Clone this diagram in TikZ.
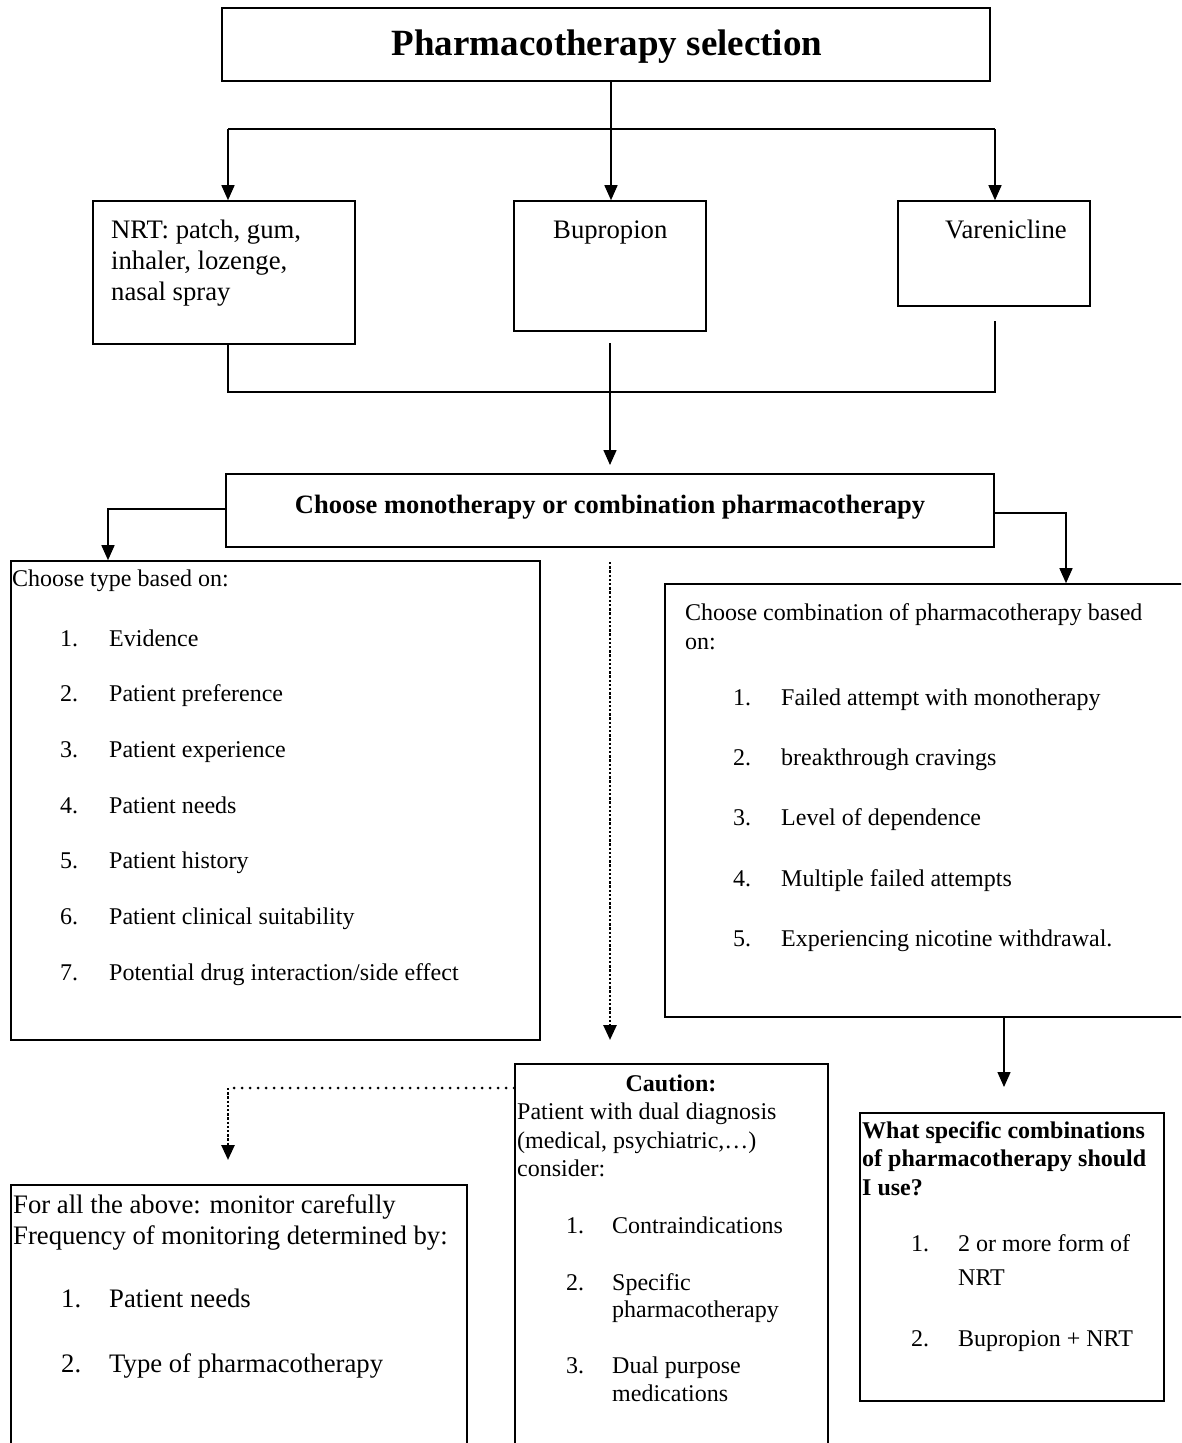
\documentclass[tikz,border=0pt]{standalone}
\usepackage{fontspec}
\setmainfont{Liberation Serif}
\usetikzlibrary{arrows.meta}
\tikzset{
  box/.style={draw, line width=1.6pt, rectangle, inner sep=0pt},
  conn/.style={line width=1.5pt},
  arr/.style={conn, -{Triangle[length=15pt,width=13pt]}},
  dotline/.style={line width=2.6pt, dash pattern=on 2.4pt off 1.8pt},
  dotround/.style={line width=3pt, line cap=round, dash pattern=on 0pt off 8pt},
  darr/.style={dotline, -{Triangle[length=15pt,width=13pt]}},
  tx/.style={anchor=base west, inner sep=0pt, font=\fontsize{24}{28}\selectfont},
  tm/.style={anchor=base west, inner sep=0pt, font=\fontsize{26.7}{31}\selectfont},
  tb/.style={anchor=base west, inner sep=0pt, font=\fontsize{24}{28}\selectfont\bfseries},
}
\begin{document}
\begin{tikzpicture}[x=1pt,y=-1pt]
\useasboundingbox (0,0) rectangle (1181,1443);
\clip (0,0) rectangle (1181,1443);
% boxes
\node[box, minimum width=768pt, minimum height=73pt] (title) at (606,44.5) {};
\node[box, minimum width=262pt, minimum height=143pt] (nrt) at (224,272.5) {};
\node[box, minimum width=192pt, minimum height=130pt] (bup) at (610,266) {};
\node[box, minimum width=192pt, minimum height=105pt] (var) at (994,253.5) {};
\node[box, minimum width=768pt, minimum height=73pt] (mono) at (610,510.5) {};
\node[box, minimum width=529pt, minimum height=479pt] (typebox) at (275.5,800.5) {};
\node[box, minimum width=530pt, minimum height=433pt] (combbox) at (930,800.5) {};
\node[box, minimum width=313pt, minimum height=396pt] (caution) at (671.5,1262) {};
\node[box, minimum width=456pt, minimum height=275pt] (monitor) at (239,1322.5) {};
\node[box, minimum width=304pt, minimum height=288pt] (spec) at (1012,1257) {};
% texts
\node[anchor=base, inner sep=0pt, font=\fontsize{37}{41}\selectfont\bfseries] (ttl) at (607,55) {Pharmacotherapy selection};
\node[tm] (n1) at (111,238) {NRT: patch, gum,};
\node[tm] (n2) at (111,269) {inhaler, lozenge,};
\node[tm] (n3) at (111,300) {nasal spray};
\node[tm] (b1) at (553,238) {Bupropion};
\node[tm] (v1) at (945,238) {Varenicline};
\node[anchor=base, inner sep=0pt, font=\fontsize{26.5}{30}\selectfont\bfseries] (m1) at (610,513) {Choose monotherapy or combination pharmacotherapy};
% left list
\node[tx] (a0) at (12,586) {Choose type based on:};
\node[tx] (a1n) at (60,646) {1.}; \node[tx] (a1) at (109,646) {Evidence};
\node[tx] (a2n) at (60,701) {2.}; \node[tx] (a2) at (109,701) {Patient preference};
\node[tx] (a3n) at (60,757) {3.}; \node[tx] (a3) at (109,757) {Patient experience};
\node[tx] (a4n) at (60,813) {4.}; \node[tx] (a4) at (109,813) {Patient needs};
\node[tx] (a5n) at (60,868) {5.}; \node[tx] (a5) at (109,868) {Patient history};
\node[tx] (a6n) at (60,924) {6.}; \node[tx] (a6) at (109,924) {Patient clinical suitability};
\node[tx] (a7n) at (60,980) {7.}; \node[tx] (a7) at (109,980) {Potential drug interaction/side effect};
% right list
\node[tx] (c0) at (685,620) {Choose combination of pharmacotherapy based};
\node[tx] (c0b) at (685,649) {on:};
\node[tx] (c1n) at (733,705) {1.}; \node[tx] (c1) at (781,705) {Failed attempt with monotherapy};
\node[tx] (c2n) at (733,765) {2.}; \node[tx] (c2) at (781,765) {breakthrough cravings};
\node[tx] (c3n) at (733,825) {3.}; \node[tx] (c3) at (781,825) {Level of dependence};
\node[tx] (c4n) at (733,886) {4.}; \node[tx] (c4) at (781,886) {Multiple failed attempts};
\node[tx] (c5n) at (733,946) {5.}; \node[tx] (c5) at (781,946) {Experiencing nicotine withdrawal.};
% caution
\node[anchor=base, inner sep=0pt, font=\fontsize{24}{28}\selectfont\bfseries] (k0) at (671,1091) {Caution:};
\node[tx] (k1) at (517,1119) {Patient with dual diagnosis};
\node[tx] (k2) at (517,1148) {(medical, psychiatric,…)};
\node[tx] (k3) at (517,1176) {consider:};
\node[tx] (k4n) at (566,1233) {1.}; \node[tx] (k4) at (612,1233) {Contraindications};
\node[tx] (k5n) at (566,1290) {2.}; \node[tx] (k5) at (612,1290) {Specific};
\node[tx] (k5b) at (612,1317) {pharmacotherapy};
\node[tx] (k6n) at (566,1373) {3.}; \node[tx] (k6) at (612,1373) {Dual purpose};
\node[tx] (k6b) at (612,1401) {medications};
% monitor
\node[tm] (f1) at (13,1213) {For all the above: monitor carefully};
\node[tm] (f2) at (13,1244) {Frequency of monitoring determined by:};
\node[tm] (f3n) at (61,1307) {1.}; \node[tm] (f3) at (109,1307) {Patient needs};
\node[tm] (f4n) at (61,1372) {2.}; \node[tm] (f4) at (109,1372) {Type of pharmacotherapy};
% specific
\node[tb] (s1) at (862,1138) {What specific combinations};
\node[tb] (s2) at (862,1166) {of pharmacotherapy should};
\node[tb] (s3) at (862,1195) {I use?};
\node[tx] (s4n) at (911,1251) {1.}; \node[tx] (s4) at (958,1251) {2 or more form of};
\node[tx] (s4b) at (958,1285) {NRT};
\node[tx] (s5n) at (911,1346) {2.}; \node[tx] (s5) at (958,1346) {Bupropion + NRT};
% connectors
\coordinate (sM) at (611,129); \coordinate (sL) at (228,129); \coordinate (sR) at (995,129);
\draw[conn] (sM |- title.south) -- (sM);
\draw[conn] (sL) -- (sR);
\draw[arr] (sL) -- (sL |- nrt.north);
\draw[arr] (sM) -- (sM |- bup.north);
\draw[arr] (sR) -- (sR |- var.north);
\coordinate (mL) at (228,392); \coordinate (mR) at (995,392);
\coordinate (vE) at (995,321); \coordinate (bS) at (610,343); \coordinate (mT) at (610,465);
\draw[conn] (mL |- nrt.south) -- (mL) -- (mR) -- (vE);
\draw[arr] (bS) -- (mT);
\coordinate (oL) at (108,509);
\draw[arr] (oL -| mono.west) -- (oL) -- (oL |- typebox.north);
\coordinate (oR) at (1066,513);
\draw[arr] (oR -| mono.east) -- (oR) -- (oR |- combbox.north);
\coordinate (dT) at (610,562); \coordinate (dB) at (610,1040);
\draw[darr] (dT) -- (dB);
\coordinate (cS) at (1004,1087);
\draw[arr] (cS |- combbox.south) -- (cS);
\coordinate (kL) at (228,1088); \coordinate (kE) at (228,1160);
\draw[dotround] (kL -| caution.west) -- (kL);
\draw[darr] (kL) -- (kE);
\end{tikzpicture}
\end{document}
